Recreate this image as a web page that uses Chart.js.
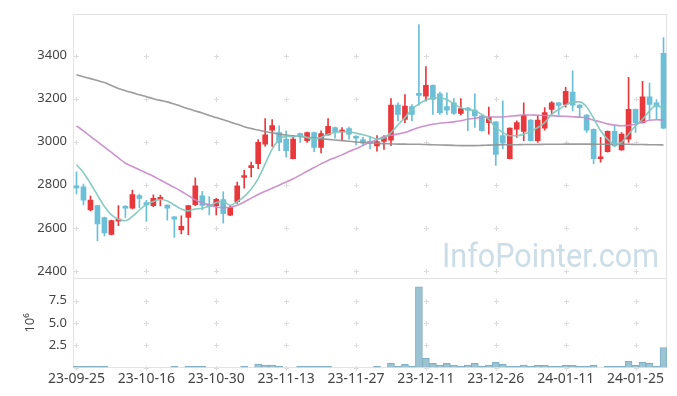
<!DOCTYPE html>
<html>
<head>
<meta charset="utf-8">
<script src="https://cdn.jsdelivr.net/npm/chart.js@4.4.1/dist/chart.umd.min.js"></script>
<style>
html,body{margin:0;padding:0;background:#fff;}
#wrap{width:677px;height:396px;}
</style>
</head>
<body>
<div id="wrap"><canvas id="c" width="677" height="396"></canvas></div>
<script>
// ---------- data ----------
const dates = [
 '23-09-25','23-09-26','23-09-27','23-10-04','23-10-05','23-10-06','23-10-10','23-10-11','23-10-12','23-10-13',
 '23-10-16','23-10-17','23-10-18','23-10-19','23-10-20','23-10-23','23-10-24','23-10-25','23-10-26','23-10-27',
 '23-10-30','23-10-31','23-11-01','23-11-02','23-11-03','23-11-06','23-11-07','23-11-08','23-11-09','23-11-10',
 '23-11-13','23-11-14','23-11-15','23-11-16','23-11-17','23-11-20','23-11-21','23-11-22','23-11-23','23-11-24',
 '23-11-27','23-11-28','23-11-29','23-11-30','23-12-01','23-12-04','23-12-05','23-12-06','23-12-07','23-12-08',
 '23-12-11','23-12-12','23-12-13','23-12-14','23-12-15','23-12-18','23-12-19','23-12-20','23-12-21','23-12-22',
 '23-12-26','23-12-27','23-12-28','24-01-02','24-01-03','24-01-04','24-01-05','24-01-08','24-01-09','24-01-10',
 '24-01-11','24-01-12','24-01-15','24-01-16','24-01-17','24-01-18','24-01-19','24-01-22','24-01-23','24-01-24',
 '24-01-25','24-01-26','24-01-29','24-01-30','24-01-31'
];
const xTickLabels = ['23-09-25','23-10-16','23-10-30','23-11-13','23-11-27','23-12-11','23-12-26','24-01-11','24-01-25'];

const open = [
 2792,2790,2683,2703,2648,2569,2631,2699,2691,2750,
 2717,2703,2733,2706,2651,2590,2648,2708,2749,2706,
 2703,2731,2659,2722,2834,2880,2898,2989,3054,3043,
 3012,2921,3032,3005,3043,2974,3032,3066,3045,3061,
 3020,3010,2999,2981,3001,3007,3170,3104,3163,3222,
 3212,3262,3222,3163,3181,3132,3154,3147,3120,3089,
 3092,3028,2921,3058,3048,3101,3005,3063,3150,3181,
 3173,3230,3170,3124,3058,2921,2954,3048,2962,3012,
 3150,3089,3208,3181,3411
];
const high = [
 2860,2803,2748,2705,2650,2636,2703,2703,2775,2757,
 2728,2753,2752,2707,2652,2656,2705,2832,2770,2745,
 2737,2767,2703,2813,2867,2905,3010,3107,3103,3074,
 3050,3028,3040,3045,3045,3051,3107,3068,3066,3068,
 3028,3020,3025,3028,3028,3200,3181,3219,3173,3544,
 3349,3264,3231,3227,3200,3200,3160,3222,3122,3161,
 3094,3190,3065,3097,3181,3103,3120,3158,3186,3182,
 3253,3329,3172,3126,3060,3020,3050,3074,3042,3299,
 3152,3280,3272,3196,3483
];
const low = [
 2758,2706,2679,2541,2563,2567,2610,2648,2688,2694,
 2630,2698,2702,2636,2556,2572,2568,2703,2684,2660,
 2660,2622,2657,2714,2784,2837,2875,2979,2978,2959,
 2928,2920,2997,2997,2954,2948,3030,3017,3005,3012,
 2985,2981,2967,2956,2964,2982,3097,3089,3097,3170,
 3189,3127,3127,3127,3127,3124,3051,3066,3049,3035,
 2890,2967,2920,3020,3005,3003,2997,3054,3130,3124,
 3161,3143,3112,3043,2898,2905,2951,2977,2960,2997,
 3043,3086,3104,3104,3061
];
const close = [
 2785,2729,2729,2618,2576,2634,2640,2691,2755,2737,
 2706,2737,2740,2691,2640,2607,2703,2795,2704,2700,
 2733,2666,2694,2795,2841,2887,2997,3032,3075,2997,
 2958,3012,3028,3043,2974,3038,3071,3045,3052,3035,
 3016,2993,2992,3001,3020,3170,3127,3166,3127,3215,
 3262,3196,3135,3146,3132,3154,3147,3120,3051,3115,
 2941,2993,3063,3089,3123,3005,3101,3135,3181,3169,
 3234,3170,3158,3054,2921,2928,3048,2981,3035,3150,
 3089,3208,3173,3163,3063
];
const ma5 = [
 2893,2856,2806,2752,2699,2660,2640,2633,2653,2683,
 2709,2722,2732,2725,2706,2688,2679,2688,2691,2702,
 2718,2722,2705,2722,2745,2780,2829,2897,2966,3010,
 3025,3023,3028,3020,3012,3020,3035,3043,3046,3046,
 3040,3032,3023,3012,3017,3043,3078,3112,3150,3176,
 3193,3204,3204,3196,3176,3158,3150,3143,3127,3104,
 3066,3043,3028,3028,3035,3048,3066,3089,3127,3150,
 3170,3185,3185,3161,3109,3051,3012,2989,2997,3035,
 3074,3104,3143,3170,3150
];
const ma20 = [
 3074,3050,3025,3000,2975,2950,2925,2900,2885,2870,
 2855,2840,2822,2805,2788,2770,2750,2730,2716,2707,
 2697,2694,2696,2705,2720,2738,2755,2770,2784,2798,
 2813,2828,2845,2863,2880,2897,2913,2926,2939,2955,
 2967,2983,2997,3010,3024,3030,3036,3043,3055,3066,
 3074,3081,3086,3089,3092,3097,3104,3109,3113,3115,
 3115,3115,3118,3121,3124,3124,3123,3122,3121,3119,
 3118,3116,3114,3110,3100,3092,3083,3077,3074,3076,
 3081,3091,3100,3102,3101
];
const ma120 = [
 3311,3302,3293,3284,3275,3261,3247,3237,3228,3218,
 3209,3200,3192,3185,3175,3164,3153,3143,3133,3122,
 3112,3102,3092,3081,3070,3061,3054,3046,3041,3036,
 3031,3027,3024,3020,3017,3014,3011,3008,3005,3002,
 2999,2997,2995,2993,2991,2990,2989,2989,2988,2988,
 2987,2986,2985,2984,2983,2982,2982,2982,2983,2984,
 2985,2986,2986,2986,2987,2987,2987,2988,2988,2988,
 2989,2989,2989,2989,2989,2988,2988,2988,2988,2988,
 2987,2987,2986,2986,2985
];
const volume = [
 120000,120000,120000,120000,120000,null,null,null,null,null,
 null,null,null,null,120000,null,120000,120000,120000,null,
 null,null,null,null,120000,null,390000,280000,280000,120000,
 null,null,120000,120000,120000,120000,120000,null,null,null,
 null,null,null,120000,null,460000,120000,350000,120000,9040000,
 1020000,460000,280000,460000,280000,120000,280000,460000,120000,280000,
 570000,350000,120000,120000,280000,120000,240000,240000,120000,120000,
 240000,240000,120000,120000,240000,null,120000,120000,120000,720000,
 240000,570000,460000,120000,2240000
];
const priceTicks = [2400, 2600, 2800, 3000, 3200, 3400];
const volumeTicks = [2500000, 5000000, 7500000];

// ---------- style ----------
const RED = '#e8383c', BLUE = '#6bbfd7';
const up = i => close[i] >= open[i];
const candleColor = c => up(c.dataIndex) ? RED : BLUE;

Chart.defaults.font.family = '"Noto Sans", "Open Sans", sans-serif';
Chart.defaults.color = '#444';

const decor = {
  id: 'decor',
  beforeDatasetsDraw(chart) {
    const {ctx, chartArea: a, scales: {x, y, yv}} = chart;
    ctx.save();
    ctx.font = '34px Roboto, "Noto Sans", sans-serif';
    const txt = 'InfoPointer.com';
    const w = ctx.measureText(txt).width;
    ctx.translate(442, 266.5);
    ctx.scale(217 / w, 1);
    ctx.fillStyle = '#cbdde7';
    ctx.textBaseline = 'alphabetic';
    ctx.fillText(txt, 0, 0);
    ctx.restore();

    ctx.save();
    const xs = x.ticks.map(t => x.getPixelForValue(t.value));
    const rows = y.ticks.map(t => y.getPixelForValue(t.value))
      .concat(yv.ticks.map(t => yv.getPixelForValue(t.value)))
      .concat([yv.getPixelForValue(0)]);
    ctx.strokeStyle = '#dcdcdc';
    ctx.lineWidth = 1;
    ctx.beginPath();
    for (const px of xs) {
      const cx = Math.round(px) + 0.5;
      for (const py of rows) {
        const cy = Math.round(py) + 0.5;
        ctx.moveTo(cx - 2.5, cy); ctx.lineTo(cx + 2.5, cy);
        ctx.moveTo(cx, cy - 2.5); ctx.lineTo(cx, cy + 2.5);
      }
    }
    ctx.stroke();
    ctx.strokeStyle = '#e3e3e3';
    const L = Math.round(a.left) + 0.5, R = Math.round(a.right) - 0.5;
    ctx.strokeRect(L, Math.round(y.top) + 0.5, R - L, Math.round(y.bottom) - Math.round(y.top));
    ctx.strokeRect(L, Math.round(yv.top) + 0.5, R - L, Math.round(yv.bottom) - Math.round(yv.top) - 1);
    ctx.restore();
  }
};

new Chart(document.getElementById('c'), {
  data: {
    labels: dates,
    datasets: [
      { type: 'line', label: 'MA5', data: ma5, yAxisID: 'y', borderColor: 'rgba(130,200,190,0.95)', borderWidth: 1.6, pointRadius: 0, cubicInterpolationMode: 'monotone', order: 1 },
      { type: 'line', label: 'MA20', data: ma20, yAxisID: 'y', borderColor: 'rgba(200,135,200,0.9)', borderWidth: 1.6, pointRadius: 0, cubicInterpolationMode: 'monotone', order: 1 },
      { type: 'line', label: 'MA120', data: ma120, yAxisID: 'y', borderColor: 'rgba(145,145,145,0.9)', borderWidth: 1.6, pointRadius: 0, cubicInterpolationMode: 'monotone', order: 1 },
      { type: 'bar', label: 'body', data: dates.map((d, i) => [open[i], close[i]]), yAxisID: 'y', backgroundColor: candleColor, barThickness: 5, minBarLength: 2, grouped: false, order: 2 },
      { type: 'bar', label: 'wick', data: dates.map((d, i) => [low[i], high[i]]), yAxisID: 'y', backgroundColor: candleColor, barThickness: 1, grouped: false, order: 3 },
      { type: 'bar', label: 'volume', data: volume, yAxisID: 'yv', backgroundColor: '#9cc3d2', borderColor: '#7eaec1', borderWidth: 1, barPercentage: 1, categoryPercentage: 1, grouped: false, order: 4 }
    ]
  },
  options: {
    responsive: false,
    animation: false,
    devicePixelRatio: 1,
    layout: { padding: { top: 10, right: 10, left: 0, bottom: 0 } },
    plugins: { legend: { display: false }, tooltip: { enabled: false } },
    scales: {
      x: {
        type: 'category',
        offset: true,
        grid: { display: false, drawTicks: false },
        border: { display: false },
        ticks: { autoSkip: false, maxRotation: 0, minRotation: 0, padding: 3, font: { size: 14 }, color: '#444' },
        afterBuildTicks: s => { s.ticks = s.ticks.filter(t => xTickLabels.includes(dates[t.value])); },
        afterFit: s => { s.height = 28.5; }
      },
      yv: {
        type: 'linear', position: 'left', stack: 'panels', stackWeight: 90.2,
        min: 0, max: 10000000,
        grid: { display: false, drawTicks: false },
        border: { display: false },
        title: { display: true, text: '10⁶', font: { size: 13 }, color: '#444', padding: { top: 22, bottom: 0 } },
        ticks: { padding: 6, font: { size: 13 }, color: '#444', callback: v => (v / 1e6).toFixed(1) },
        afterBuildTicks: s => { s.ticks = volumeTicks.map(v => ({ value: v })); },
        afterFit: s => { s.width = 73; }
      },
      y: {
        type: 'linear', position: 'left', stack: 'panels', stackWeight: 267.3,
        min: 2366, max: 3594,
        grid: { display: false, drawTicks: false },
        border: { display: false },
        ticks: { padding: 6, font: { size: 13 }, color: '#444', callback: v => String(v) },
        afterBuildTicks: s => { s.ticks = priceTicks.map(v => ({ value: v })); },
        afterFit: s => { s.width = 73; }
      }
    }
  },
  plugins: [decor]
});
</script>
</body>
</html>
